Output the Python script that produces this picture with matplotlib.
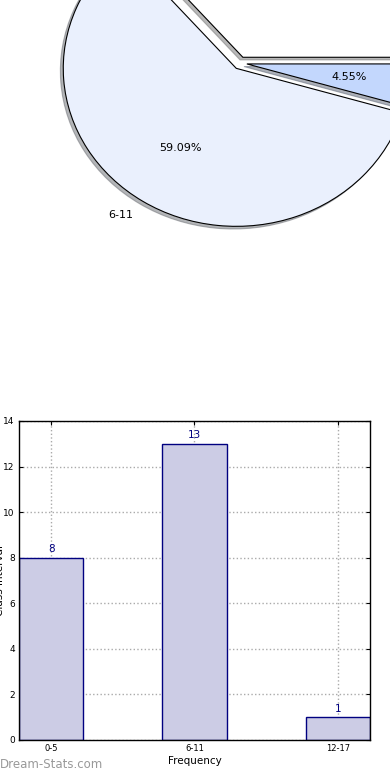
import matplotlib
matplotlib.use('Agg')
import matplotlib.pyplot as plt

# data
classes = ['0-5', '6-11', '12-17']
counts = [8, 13, 1]
pie_colors = ['#ffffff', '#eaf0fd', '#c3d7fd']
explode = [0.04, 0.04, 0.04]
yticks = [0, 2, 4, 6, 8, 10, 12, 14]

fig = plt.figure(figsize=(3.9, 7.8), dpi=100)

# ---------- pie (old-style, elliptical, partly outside the figure) ----------
ax1 = fig.add_axes([0.0609, 0.666, 1.109, 0.5064])
wedges, texts, autotexts = ax1.pie(
    counts, labels=classes, colors=pie_colors, explode=explode,
    autopct='%.2f%%', startangle=0,
    shadow={'ox': -0.012, 'oy': -0.012, 'shade': 0.55},
    wedgeprops=dict(edgecolor='black', linewidth=0.8),
    textprops=dict(fontsize=8))
ax1.set_aspect('auto')
ax1.set_xlim(-1.25, 1.25)
ax1.set_ylim(-1.25, 1.25)
ax1.axis('off')

# ---------- bar chart ----------
ax2 = fig.add_axes([0.0487, 0.0513, 0.9, 0.409])
x = range(len(classes))
bars = ax2.bar(x, counts, width=0.45, color='#ccccE5', edgecolor='#000080',
               linewidth=1, zorder=2)
for xi, c in zip(x, counts):
    ax2.text(xi, c + 0.15, str(c), ha='center', va='bottom',
             color='#000080', fontsize=7.5)

ax2.set_xlim(-0.225, 2.225)
ax2.set_ylim(0, 14)
ax2.set_xticks(list(x))
ax2.set_xticklabels(classes, fontsize=6)
ax2.set_yticks(yticks)
ax2.set_yticklabels([str(t) for t in yticks], fontsize=6.5)
ax2.tick_params(direction='in', length=3, top=True, right=True, pad=3)
ax2.grid(True, linestyle=':', color='#aaaaaa', linewidth=1, zorder=0)
ax2.set_axisbelow(True)
for s in ax2.spines.values():
    s.set_linewidth(1)
ax2.set_xlabel('Frequency', fontsize=7.5, labelpad=2)
ax2.set_ylabel('Class Interval', fontsize=7.5)
ax2.yaxis.set_label_coords(-0.04, 0.5)

fig.text(0.0, 0.012, 'Dream-Stats.com', fontsize=8.5, color='#999999',
         ha='left', va='bottom')

fig.savefig('out.png', dpi=100)
